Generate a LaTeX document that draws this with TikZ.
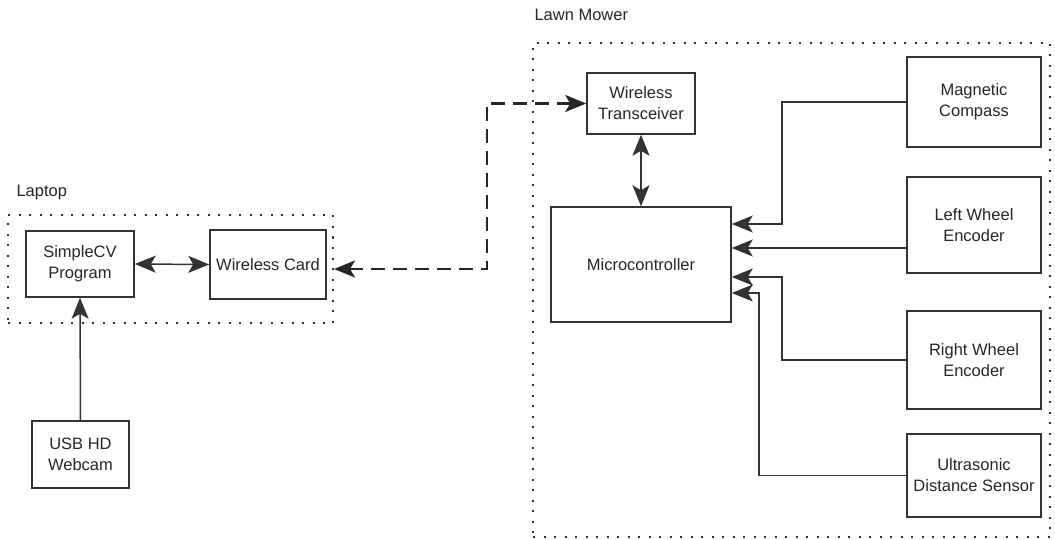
\documentclass[tikz,border=0pt]{standalone}
\usepackage{fontspec}
\setmainfont{Liberation Sans}
\usetikzlibrary{arrows.meta,positioning}
\begin{document}
\begin{tikzpicture}[x=1pt,y=-1pt,
  >={Stealth[length=21pt,width=17pt,inset=5pt]},
  every node/.style={font=\fontsize{16.5}{21}\selectfont, text=black!85},
  box/.style={draw=black!80, line width=1.5pt, align=center, inner sep=0pt},
  group/.style={draw=black!80, line width=2pt, dash pattern=on 2pt off 8.5pt},
  conn/.style={draw=black!80, line width=1.5pt},
  wire/.style={draw=black!85, line width=2.6pt, dash pattern=on 14pt off 8pt}]
\useasboundingbox (0,0) rectangle (1055,540);

% containers
\node[group, minimum width=325pt, minimum height=108pt] (laptop) at (170.5,269) {};
\node[anchor=west] (laptoplbl) at (13,193) {Laptop};
\node[group, minimum width=517pt, minimum height=494pt] (mower) at (791.5,290) {};
\node[anchor=west] (mowerlbl) at (531,15) {Lawn Mower};

% laptop boxes
\node[box, minimum width=108pt, minimum height=66pt] (simple) at (80,264) {SimpleCV\\Program};
\node[box, minimum width=116pt, minimum height=69pt] (wcard) at (268,264.5) {Wireless Card};
\node[box, minimum width=97pt, minimum height=67pt] (webcam) at (80.5,454.5) {USB HD\\Webcam};

% mower boxes
\node[box, minimum width=108pt, minimum height=61pt] (trans) at (641,103.5) {Wireless\\Transceiver};
\node[box, minimum width=180pt, minimum height=115pt] (micro) at (641,264.5) {Microcontroller};
\node[box, minimum width=134pt, minimum height=90pt] (compass) at (974,102) {Magnetic\\Compass};
\node[box, minimum width=134pt, minimum height=96pt] (lwheel) at (974,225) {Left Wheel\\Encoder};
\node[box, minimum width=134pt, minimum height=98pt] (rwheel) at (974,360) {Right Wheel\\Encoder};
\node[box, minimum width=134pt, minimum height=83pt] (ultra) at (974,475.5) {Ultrasonic\\Distance Sensor};

% connectors
\draw[conn, <->] (simple.east) -- (wcard.west);
\draw[conn, ->] (webcam.north) -- (simple.south);
\draw[conn, <->] (trans.south) -- (micro.north);

\coordinate (bend) at (487,103.5);
\draw[wire, <->] (trans.west) -- (bend) |- (laptop.east);

\coordinate (k1) at (782,224);
\coordinate (k2) at (907,248);
\coordinate (k3) at (782,277);
\coordinate (k4) at (759,293);
\draw[conn, ->] (compass.west) -| (k1) -- (k1 -| micro.east);
\draw[conn, ->] (k2 -| lwheel.west) -- (k2 -| micro.east);
\draw[conn, ->] (rwheel.west) -| (k3) -- (k3 -| micro.east);
\draw[conn, ->] (ultra.west) -| (k4) -- (k4 -| micro.east);
\end{tikzpicture}
\end{document}
